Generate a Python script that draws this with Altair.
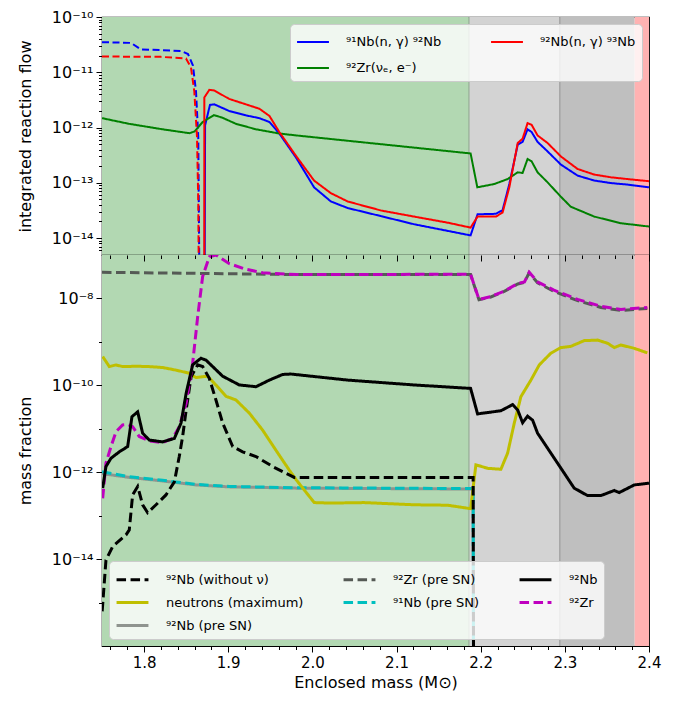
import altair as alt
import pandas as pd

# ---------------- top panel: integrated reaction flows ----------------
R_NB91 = "⁹¹Nb(n, γ) ⁹²Nb"
R_NB92 = "⁹²Nb(n, γ) ⁹³Nb"
R_ZR92 = "⁹²Zr(νₑ, e⁻)"
# domain order chosen so that the 2-column legend reads: row 1 = Nb91, Nb92 ; row 2 = Zr92
REACTIONS = [R_NB91, R_ZR92, R_NB92]
REACTION_COLORS = ["#0000ff", "#008000", "#ff0000"]

N91_NEG_M = [1.750, 1.7845, 1.796, 1.844, 1.8522, 1.8581, 1.8617, 1.8644, 1.8664]
N91_NEG_V = [3.5e-11, 3.4e-11, 2.6e-11, 2.43e-11, 2.14e-11, 1.32e-11, 4.5e-12, 6.8e-13, 1e-16]

N92_NEG_M = [1.750, 1.820, 1.8498, 1.8557, 1.8597, 1.8629, 1.8644, 1.8656]
N92_NEG_V = [1.93e-11, 1.9e-11, 1.78e-11, 1.23e-11, 4.5e-12, 6.8e-13, 4.6e-14, 1e-16]

N91_POS_M = [1.8718, 1.8725, 1.8783, 1.8834, 1.901, 1.921, 1.937, 1.949, 1.9607, 1.981,
             2.002, 2.022, 2.042, 2.0815, 2.121, 2.161, 2.188, 2.1963, 2.218, 2.226,
             2.234, 2.244, 2.2498, 2.2557, 2.2605, 2.2676, 2.2795, 2.2953, 2.3152, 2.335,
             2.3547, 2.3745, 2.400]
N91_POS_V = [1e-16, 1.1e-12, 2.57e-12, 2.63e-12, 2.0e-12, 1.66e-12, 1.48e-12, 1.26e-12, 7.8e-13, 2.8e-13,
             8.3e-14, 4.6e-14, 3.5e-14, 2.5e-14, 1.78e-14, 1.35e-14, 1.12e-14, 2.7e-14, 2.75e-14, 3.2e-14,
             9.5e-14, 4.9e-13, 5.5e-13, 9.3e-13, 8.3e-13, 5.5e-13, 3.7e-13, 2.14e-13, 1.35e-13, 1.1e-13,
             9.9e-14, 9.3e-14, 8.3e-14]

N92_POS_M = [1.8715, 1.8716, 1.8775, 1.8834, 1.901, 1.921, 1.937, 1.949, 1.9607, 1.981,
             2.002, 2.022, 2.042, 2.0815, 2.121, 2.161, 2.188, 2.1963, 2.218, 2.226,
             2.234, 2.244, 2.2498, 2.2557, 2.2605, 2.2676, 2.2795, 2.2953, 2.3152, 2.335,
             2.3547, 2.3745, 2.400]
N92_POS_V = [1e-16, 3.5e-12, 4.8e-12, 4.7e-12, 3.3e-12, 2.63e-12, 2.19e-12, 1.62e-12, 8.3e-13, 3.0e-13,
             1.1e-13, 6.5e-14, 4.6e-14, 3.16e-14, 2.45e-14, 1.9e-14, 1.55e-14, 2.45e-14, 2.45e-14, 2.9e-14,
             8.3e-14, 5.25e-13, 6.3e-13, 1.2e-12, 1.12e-12, 7.2e-13, 5.25e-13, 3.0e-13, 1.78e-13, 1.41e-13,
             1.26e-13, 1.17e-13, 1.07e-13]

ZR_M = [1.750, 1.782, 1.822, 1.854, 1.860, 1.8696, 1.883, 1.893, 1.909, 1.933, 1.9607, 1.981,
        2.188, 2.196, 2.216, 2.232, 2.244, 2.2498, 2.2557, 2.2605, 2.2676, 2.2795, 2.2953, 2.307,
        2.335, 2.3666, 2.400]
ZR_V = [1.48e-12, 1.17e-12, 9.3e-13, 7.9e-13, 8.5e-13, 1.26e-12, 1.68e-12, 1.51e-12, 1.17e-12, 9.3e-13,
        7.8e-13, 7.2e-13, 3.4e-13, 8.3e-14, 9.5e-14, 1.17e-13, 1.55e-13, 1.51e-13, 2.7e-13, 2.45e-13,
        1.55e-13, 1.02e-13, 5.6e-14, 3.7e-14, 2.45e-14, 1.86e-14, 1.62e-14]

# ---------------- bottom panel: mass fractions ----------------
S_NB92_NONU = "⁹²Nb (without ν)"
S_NEUT = "neutrons (maximum)"
S_NB92_PRE = "⁹²Nb (pre SN)"
S_ZR92_PRE = "⁹²Zr (pre SN)"
S_NB91_PRE = "⁹¹Nb (pre SN)"
S_NB92 = "⁹²Nb"
S_ZR92 = "⁹²Zr"
# domain order chosen so the 3-column legend reads like the original (column by column)
SPECIES = [S_NB92_NONU, S_NEUT, S_ZR92, S_ZR92_PRE, S_NB91_PRE, S_NB92_PRE, S_NB92]
DASH = [9.5, 4.5]
SOLID = [1, 0]
SPECIES_COLORS = ["#000000", "#bfbf00", "#bf00bf", "#555a55", "#00bfbf", "#8f948f", "#000000"]
SPECIES_DASH = [DASH, SOLID, DASH, DASH, DASH, SOLID, SOLID]

NB92_M = [1.7508, 1.7547, 1.7607, 1.7706, 1.7805, 1.7856, 1.7924, 1.7983, 1.8062, 1.822,
          1.836, 1.8439, 1.850, 1.8577, 1.8676, 1.8736, 1.8934, 1.9132, 1.933, 1.9489,
          1.9647, 1.9745, 2.042, 2.121, 2.188, 2.1963, 2.224, 2.238, 2.244, 2.2498,
          2.2557, 2.2617, 2.2676, 2.2834, 2.2993, 2.3111, 2.327, 2.3429, 2.3587, 2.3646,
          2.3825, 2.400]
NB92_V = [4.3e-13, 1.35e-12, 2.1e-12, 2.95e-12, 3.9e-12, 1.9e-11, 2.45e-11, 7.9e-12, 5.5e-12, 5.0e-12,
          6.0e-12, 1.35e-11, 6.6e-11, 2.95e-10, 4.2e-10, 3.8e-10, 1.62e-10, 1.02e-10, 9.3e-11, 1.32e-10,
          1.78e-10, 1.82e-10, 1.32e-10, 1.02e-10, 8.5e-11, 2.2e-11, 2.6e-11, 3.6e-11, 2.7e-11, 1.38e-11,
          1.95e-11, 1.58e-11, 7.9e-12, 2.75e-12, 9.5e-13, 4.3e-13, 2.9e-13, 2.9e-13, 3.8e-13, 3.4e-13,
          5.1e-13, 5.6e-13]

NB92_NONU_M = [1.7502, 1.7547, 1.7627, 1.7785, 1.7824, 1.7864, 1.7924, 1.7983, 1.8042, 1.8142,
               1.826, 1.836, 1.8418, 1.8458, 1.850, 1.8559, 1.8637, 1.8696, 1.8775, 1.8854,
               1.8934, 1.9053, 1.9171, 1.933, 1.9528, 1.9725, 1.9785, 2.191, 2.1916]
NB92_NONU_V = [6.3e-16, 9.5e-15, 1.95e-14, 3.6e-14, 4.7e-14, 3.0e-13, 4.7e-13, 1.78e-13, 1.17e-13, 1.78e-13,
               3.0e-13, 6.0e-13, 2.3e-12, 6.6e-12, 2.7e-11, 1.58e-10, 2.95e-10, 2.7e-10, 1.45e-10, 4.6e-11,
               1.35e-11, 3.9e-12, 2.95e-12, 2.3e-12, 1.35e-12, 8.7e-13, 7.6e-13, 7.6e-13, 1e-17]

NEUT_M = [1.7508, 1.7587, 1.7666, 1.7745, 1.7904, 1.8062, 1.822, 1.8379, 1.8537, 1.8617,
          1.8696, 1.8756, 1.8834, 1.8973, 1.9092, 1.925, 1.9409, 1.9567, 1.9725, 1.981,
          2.0022, 2.022, 2.0616, 2.121, 2.1607, 2.188, 2.1943, 2.2082, 2.224, 2.232,
          2.2399, 2.2478, 2.2597, 2.2696, 2.2834, 2.2953, 2.3072, 2.323, 2.3389, 2.3508,
          2.3587, 2.3666, 2.3825, 2.398]
NEUT_V = [4.6e-10, 2.7e-10, 2.95e-10, 2.7e-10, 2.75e-10, 2.7e-10, 2.57e-10, 2.24e-10, 1.9e-10, 1.51e-10,
          1.58e-10, 1.62e-10, 1.12e-10, 5.6e-11, 4.6e-11, 2.3e-11, 9.3e-12, 3.2e-12, 1.12e-12, 6.6e-13,
          2.0e-13, 1.95e-13, 2.0e-13, 1.78e-13, 1.74e-13, 1.45e-13, 1.48e-12, 1.23e-12, 1.17e-12, 2.75e-12,
          1.35e-11, 5.5e-11, 1.32e-10, 2.95e-10, 5.5e-10, 7.4e-10, 7.9e-10, 1.07e-9, 1.1e-9, 9.3e-10,
          7.4e-10, 8.5e-10, 7.1e-10, 5.6e-10]

ZR92_M = [1.7508, 1.7547, 1.7607, 1.7666, 1.7745, 1.7805, 1.7864, 1.7943, 1.8062, 1.822,
          1.834, 1.8418, 1.850, 1.8577, 1.8637, 1.8696, 1.8775, 1.8854, 1.9013, 1.921,
          1.941, 1.981, 2.188, 2.198, 2.212, 2.228, 2.244, 2.252, 2.2576, 2.2676,
          2.287, 2.3152, 2.3429, 2.3666, 2.398]
ZR92_V = [2.5e-13, 1.62e-12, 3.9e-12, 8.5e-12, 1.23e-11, 1.26e-11, 1.12e-11, 6.6e-12, 5.25e-12, 4.8e-12,
          6.0e-12, 1.12e-11, 3.9e-11, 3.2e-10, 3.8e-9, 3.2e-8, 9.1e-8, 1.0e-7, 6.3e-8, 4.7e-8,
          3.9e-8, 3.55e-8, 3.6e-8, 9.5e-9, 1.1e-8, 1.48e-8, 2.2e-8, 2.4e-8, 4.0e-8, 2.4e-8,
          1.55e-8, 9.5e-9, 6.6e-9, 5.6e-9, 6.2e-9]

ZRPRE_M = [1.750, 1.981, 2.188, 2.198, 2.212, 2.228, 2.244, 2.252, 2.2576, 2.2676,
           2.287, 2.3152, 2.3429, 2.3666, 2.398]
ZRPRE_V = [4.0e-8, 3.55e-8, 3.55e-8, 9.3e-9, 1.08e-8, 1.45e-8, 2.15e-8, 2.35e-8, 3.9e-8, 2.3e-8,
           1.45e-8, 8.9e-9, 6.2e-9, 5.3e-9, 5.9e-9]

PRE_M = [1.750, 1.7824, 1.822, 1.8617, 1.9013, 1.981, 2.191, 2.1915]
NB91PRE_V = [1.02e-12, 7.9e-13, 6.5e-13, 5.25e-13, 4.7e-13, 4.4e-13, 4.2e-13, 1e-17]
NB92PRE_V = [9.3e-13, 7.6e-13, 6.3e-13, 5.1e-13, 4.6e-13, 4.3e-13, 4.1e-13, 1e-17]

# ---------------- shaded zones ----------------
REGION_START = [1.75, 2.186, 2.294, 2.383]
REGION_END = [2.186, 2.294, 2.383, 2.40]
REGION_FILL = ["#b2d8b2", "#d3d3d3", "#bfbfbf", "#ffb2b2"]
EDGE_M = [2.186, 2.294]
EDGE_COLOR = ["#98b098", "#a0a0a0"]

# ---------------- tables ----------------
def series(ms, vs, **tags):
    d = pd.DataFrame({"m": ms, "v": vs})
    for k, val in tags.items():
        d[k] = val
    return d

top_df = pd.concat([
    series(N91_NEG_M, N91_NEG_V, reaction=R_NB91, part="neg"),
    series(N91_POS_M, N91_POS_V, reaction=R_NB91, part="pos"),
    series(ZR_M, ZR_V, reaction=R_ZR92, part="pos"),
    series(N92_NEG_M, N92_NEG_V, reaction=R_NB92, part="neg"),
    series(N92_POS_M, N92_POS_V, reaction=R_NB92, part="pos"),
], ignore_index=True)

bot_df = pd.concat([
    series(PRE_M, NB92PRE_V, species=S_NB92_PRE),
    series(PRE_M, NB91PRE_V, species=S_NB91_PRE),
    series(ZRPRE_M, ZRPRE_V, species=S_ZR92_PRE),
    series(NEUT_M, NEUT_V, species=S_NEUT),
    series(NB92_NONU_M, NB92_NONU_V, species=S_NB92_NONU),
    series(ZR92_M, ZR92_V, species=S_ZR92),
    series(NB92_M, NB92_V, species=S_NB92),
], ignore_index=True)

regions_df = pd.DataFrame({"start": REGION_START, "end": REGION_END, "fill": REGION_FILL})
edges_df = pd.DataFrame({"m": EDGE_M, "c": EDGE_COLOR})

# ---------------- axes ----------------
W, TOP_H, BOT_H = 547, 238, 391
FONT = "DejaVu Sans"
SUP = {"-": "⁻", "0": "⁰", "1": "¹", "2": "²", "3": "³", "4": "⁴",
       "5": "⁵", "6": "⁶", "7": "⁷", "8": "⁸", "9": "⁹"}

def sup10(e):
    return "10" + "".join(SUP[c] for c in str(e))

EXP = "round(log(datum.value)/LN10)"
IS_DEC = f"abs(log(datum.value)/LN10 - {EXP}) < 0.01"

def log_labels(exps):
    s = "''"
    for e in exps:
        s = f"{EXP} == {e} ? '{sup10(e)}' : ({s})"
    return f"{IS_DEC} ? ({s}) : ''"

TOP_YTICKS = [k * 10.0 ** e for e in range(-15, -10) for k in range(1, 10)
              if k * 10.0 ** e > 5.5e-15] + [1e-10]
BOT_YTICKS = [10.0 ** e for e in range(-15, -7)]
XTICKS = [round(1.76 + 0.02 * i, 2) for i in range(33)]
XMAJ = "abs(datum.value*10 - round(datum.value*10)) < 0.001"

xscale = alt.Scale(domain=[1.75, 2.40], nice=False, zero=False)
top_yscale = alt.Scale(type="log", domain=[4.95e-15, 1e-10], nice=False)
bot_yscale = alt.Scale(type="log", domain=[1e-16, 1e-7], nice=False)

TITLE_PAD = 18

top_yaxis = alt.Axis(values=TOP_YTICKS, labelExpr=log_labels([-14, -13, -12, -11, -10]),
                     tickSize={"condition": {"test": IS_DEC, "value": 6}, "value": 3.5},
                     domain=False, grid=False, title="integrated reaction flow",
                     labelFontSize=16, titleFontSize=16, labelOverlap=False,
                     labelPadding=3, titlePadding=TITLE_PAD)
bot_yaxis = alt.Axis(values=BOT_YTICKS, labelExpr=log_labels([-14, -12, -10, -8]),
                     tickSize={"condition": {"test": f"{EXP} % 2 == 0", "value": 6}, "value": 3.5},
                     domain=False, grid=False, title="mass fraction",
                     labelFontSize=16, titleFontSize=16, labelOverlap=False,
                     labelPadding=3, titlePadding=TITLE_PAD)
bot_xaxis = alt.Axis(values=XTICKS, labelExpr=f"{XMAJ} ? format(datum.value, '.1f') : ''",
                     tickSize={"condition": {"test": XMAJ, "value": 6}, "value": 3.5},
                     domain=False, grid=False, title="Enclosed mass (M⊙)",
                     labelFontSize=15, titleFontSize=16, labelOverlap=False,
                     labelFlush=False, labelPadding=3, titlePadding=4, orient="bottom")
# ticks of the upper panel's x axis, reaching down into the lower panel
seam_axis = alt.Axis(values=XTICKS, labels=False, domain=False, grid=False, title=None,
                     tickSize={"condition": {"test": XMAJ, "value": 6}, "value": 3.5},
                     orient="bottom", offset=-BOT_H, zindex=1)

# ---------------- layers ----------------
def zones(axis):
    bg = alt.Chart(regions_df).mark_rect().encode(
        x=alt.X("start:Q", scale=xscale, axis=axis), x2="end:Q",
        fill=alt.Fill("fill:N", scale=None))
    ed = alt.Chart(edges_df).mark_rule(strokeWidth=1.3).encode(
        x=alt.X("m:Q", scale=xscale, axis=axis),
        stroke=alt.Stroke("c:N", scale=None))
    return bg, ed

LEG_SYMBOL = "M-1.45,0H1.45"   # a line ~1.45x wider than the symbol box
LEG_COMMON = dict(title=None, symbolType=LEG_SYMBOL, symbolSize=484, symbolOffset=5,
                  symbolFillColor="transparent",
                  labelFontSize=13, labelFont=FONT, labelColor="black", labelLimit=400,
                  fillColor="rgba(255,255,255,0.8)", strokeColor="#cccccc",
                  cornerRadius=4, padding=6, labelOffset=21, offset=7)
top_legend = alt.Legend(orient="top-right", columns=2, symbolStrokeWidth=2,
                        rowPadding=7, columnPadding=45, **LEG_COMMON)
bot_legend = alt.Legend(orient="bottom-left", columns=3, symbolStrokeWidth=3,
                        rowPadding=3, columnPadding=33, **LEG_COMMON)

top_lines = alt.Chart(top_df).mark_line(clip=True, strokeWidth=2).encode(
    x=alt.X("m:Q", scale=xscale, axis=None),
    y=alt.Y("v:Q", scale=top_yscale, axis=top_yaxis),
    color=alt.Color("reaction:N", scale=alt.Scale(domain=REACTIONS, range=REACTION_COLORS),
                    legend=top_legend),
    strokeDash=alt.StrokeDash("part:N", scale=alt.Scale(domain=["pos", "neg"], range=[[1, 0], [7, 3.5]]),
                              legend=None),
)
t_bg, t_ed = zones(None)
top = alt.layer(t_bg, t_ed, top_lines).properties(width=W, height=TOP_H)

bot_lines = alt.Chart(bot_df).mark_line(clip=True, strokeWidth=3).encode(
    x=alt.X("m:Q", scale=xscale, axis=bot_xaxis),
    y=alt.Y("v:Q", scale=bot_yscale, axis=bot_yaxis),
    color=alt.Color("species:N", scale=alt.Scale(domain=SPECIES, range=SPECIES_COLORS),
                    legend=bot_legend),
    strokeDash=alt.StrokeDash("species:N", scale=alt.Scale(domain=SPECIES, range=SPECIES_DASH),
                              legend=bot_legend),
)
b_bg, b_ed = zones(seam_axis)
bottom = alt.layer(alt.layer(b_bg, b_ed), bot_lines).resolve_axis(x="independent").properties(
    width=W, height=BOT_H)

chart = alt.vconcat(top, bottom, spacing=0, bounds="flush").resolve_scale(
    color="independent", strokeDash="independent", x="independent", y="independent"
).resolve_legend(
    color="independent", strokeDash="independent"
).properties(
    padding={"left": 8, "top": 0, "right": 5, "bottom": 5}
).configure(font=FONT).configure_view(
    stroke="black", strokeWidth=1.2
).configure_axis(
    labelFont=FONT, titleFont=FONT, labelColor="black", titleColor="black",
    tickColor="black", tickWidth=1, titleFontWeight="normal"
)

chart.save("out.html", embed_options={"renderer": "svg", "actions": False})
